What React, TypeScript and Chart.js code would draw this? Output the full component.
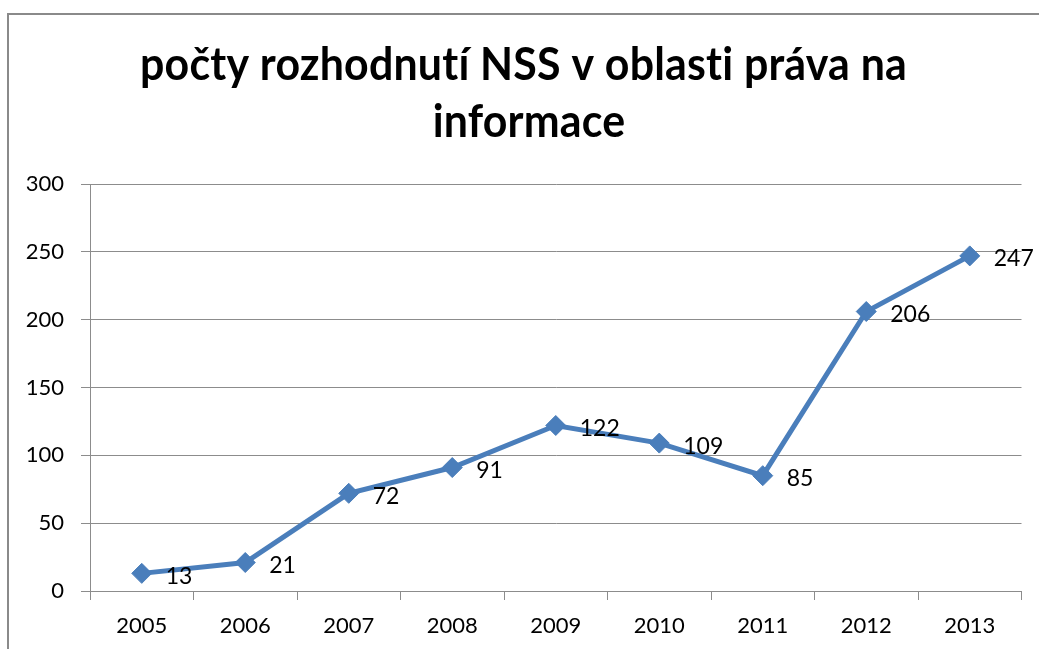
import React, { useEffect, useRef } from "react";
import { Chart, registerables } from "chart.js";

Chart.register(...registerables);

const TITLE_LINES = ["počty rozhodnutí NSS v oblasti práva na", "informace"];
const YEARS = ["2005", "2006", "2007", "2008", "2009", "2010", "2011", "2012", "2013"];
const COUNTS = [13, 21, 72, 91, 122, 109, 85, 206, 247];
const Y_MIN = 0;
const Y_MAX = 300;
const Y_STEP = 50;

const FONT = "Lato, 'Open Sans', sans-serif";
const LINE_BLUE = "#4a7ebb";
const GRID = "#8c8c8c";

const framePlugin = {
  id: "frameAndTitle",
  beforeDraw(chart: any) {
    const ctx = chart.ctx;
    ctx.save();
    ctx.fillStyle = "#ffffff";
    ctx.fillRect(0, 0, chart.width, chart.height);
    ctx.fillStyle = "#8a8a8a";
    ctx.fillRect(7, 13, 2, chart.height - 13);
    ctx.fillRect(7, 13, chart.width - 7, 2);
    ctx.restore();
  },
  afterDraw(chart: any) {
    const ctx = chart.ctx;
    ctx.save();
    try {
      (ctx as any).letterSpacing = "0.2px";
      (ctx as any).textRendering = "optimizeSpeed";
    } catch (e) {}
    ctx.font = `bold 45px ${FONT}`;
    ctx.fillStyle = "#000000";
    ctx.textAlign = "center";
    ctx.textBaseline = "alphabetic";
    const w = ctx.measureText(TITLE_LINES[0]).width;
    const sx = 767 / w;
    ctx.save();
    ctx.translate(523.5, 80);
    ctx.scale(sx, 1);
    ctx.fillText(TITLE_LINES[0], 0, 0);
    ctx.restore();
    ctx.save();
    ctx.translate(529, 137);
    ctx.scale(sx, 1);
    ctx.fillText(TITLE_LINES[1], 0, 0);
    ctx.restore();
    ctx.restore();
  },
};

const labelPlugin = {
  id: "valueLabels",
  afterDatasetsDraw(chart: any) {
    const ctx = chart.ctx;
    const meta = chart.getDatasetMeta(0);
    ctx.save();
    ctx.font = `23px ${FONT}`;
    ctx.fillStyle = "#000000";
    ctx.textAlign = "left";
    ctx.textBaseline = "middle";
    meta.data.forEach((pt: any, i: number) => {
      ctx.fillText(String(COUNTS[i]), pt.x + 24, pt.y + 3);
    });
    ctx.restore();
  },
};

export default function App() {
  const ref = useRef<HTMLCanvasElement | null>(null);

  useEffect(() => {
    if (!ref.current) return;
    const chart = new Chart(ref.current, {
      type: "line",
      data: {
        labels: YEARS,
        datasets: [
          {
            data: COUNTS,
            borderColor: LINE_BLUE,
            backgroundColor: LINE_BLUE,
            borderWidth: 5,
            pointStyle: "rectRot",
            pointRadius: 10,
            pointBackgroundColor: LINE_BLUE,
            pointBorderColor: LINE_BLUE,
            pointBorderWidth: 1,
            tension: 0,
            fill: false,
            clip: false as any,
          },
        ],
      },
      options: {
        animation: false,
        responsive: false,
        maintainAspectRatio: false,
        layout: { padding: { top: 184, right: 17.5, left: 0, bottom: 0 } },
        plugins: {
          legend: { display: false },
          tooltip: { enabled: false },
          title: { display: false },
        },
        scales: {
          x: {
            type: "category",
            offset: true,
            grid: {
              offset: true,
              drawOnChartArea: false,
              drawTicks: true,
              tickLength: 9,
              color: GRID,
            },
            border: { color: GRID },
            ticks: {
              color: "#000000",
              font: { family: FONT, size: 22 },
              padding: 13,
              maxRotation: 0,
              autoSkip: false,
            },
            afterFit: (s: any) => {
              s.height = 58;
            },
          },
          y: {
            min: Y_MIN,
            max: Y_MAX,
            ticks: {
              stepSize: Y_STEP,
              color: "#000000",
              font: { family: FONT, size: 22 },
              padding: 17,
            },
            grid: { color: GRID, tickLength: 9, drawTicks: true },
            border: { color: GRID },
            afterFit: (s: any) => {
              s.width = 90;
            },
          },
        },
      },
      plugins: [framePlugin, labelPlugin],
    });
    return () => chart.destroy();
  }, []);

  return (
    <div
      style={{
        position: "fixed",
        left: 0,
        top: 0,
        width: 1039,
        height: 649,
        overflow: "hidden",
        background: "#ffffff",
      }}
    >
      <canvas ref={ref} width={1039} height={649} style={{ display: "block", width: 1039, height: 649 }} />
    </div>
  );
}
